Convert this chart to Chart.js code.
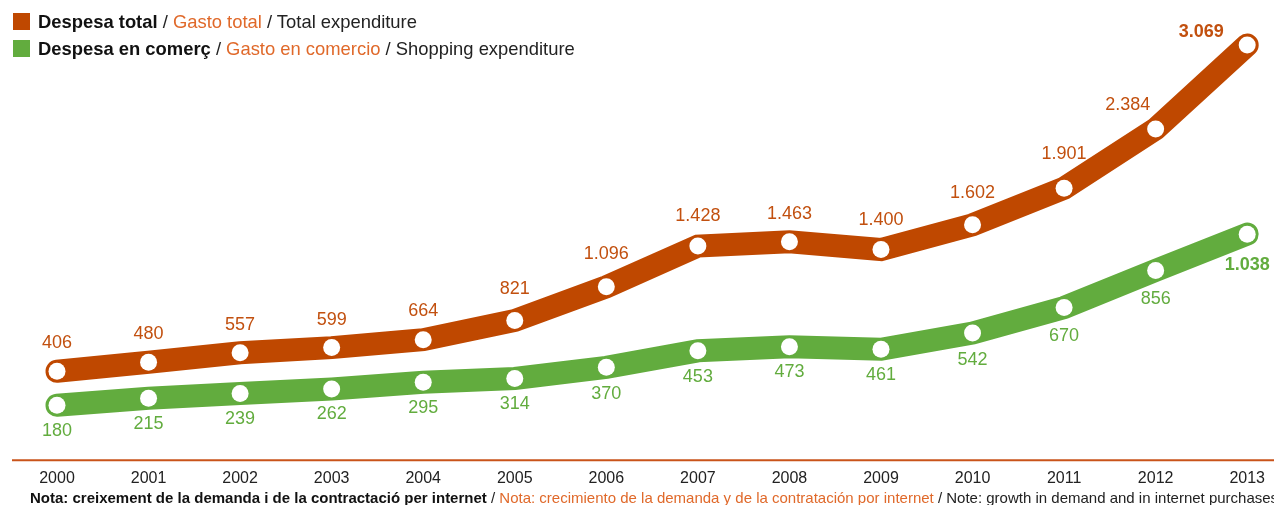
<!DOCTYPE html>
<html>
<head>
<meta charset="utf-8">
<script src="https://cdn.jsdelivr.net/npm/chart.js@4/dist/chart.umd.min.js"></script>
<style>
  html, body { margin: 0; padding: 0; background: #fff; }
  body { width: 1274px; height: 507px; position: relative; overflow: hidden; font-family: "Liberation Sans", Arial, Helvetica, sans-serif; }
  #wrap { position: absolute; left: 0; top: 0; width: 1274px; height: 507px; }
  .legend-row { position: absolute; left: 13px; height: 17px; line-height: 17px; font-size: 18.4px; white-space: nowrap; color: #222; }
  .legend-row .sw { display: inline-block; width: 17px; height: 17px; vertical-align: top; margin-right: 8px; }
  .b { font-weight: bold; color: #111; }
  .o { color: #e0692a; }
  #note { position: absolute; left: 30px; top: 490px; height: 15px; line-height: 15px; font-size: 15px; white-space: nowrap; color: #222; width: 1244px; overflow: hidden; }
</style>
</head>
<body>
<div id="wrap"><canvas id="c" width="1274" height="507"></canvas></div>
<div class="legend-row" style="top:13px"><span class="sw" style="background:#bf4800"></span><span class="b">Despesa total</span> / <span class="o">Gasto total</span> / Total expenditure</div>
<div class="legend-row" style="top:40px"><span class="sw" style="background:#62ac3e"></span><span class="b">Despesa en comerç</span> / <span class="o">Gasto en comercio</span> / Shopping expenditure</div>
<div id="note"><span class="b">Nota: creixement de la demanda i de la contractació per internet</span> / <span class="o">Nota: crecimiento de la demanda y de la contratación por internet</span> / Note: growth in demand and in internet purchases</div>
<script>
const years = ['2000','2001','2002','2003','2004','2005','2006','2007','2008','2009','2010','2011','2012','2013'];
const totalExpenditure = [406, 480, 557, 599, 664, 821, 1096, 1428, 1463, 1400, 1602, 1901, 2384, 3069];
const shoppingExpenditure = [180, 215, 239, 262, 295, 314, 370, 453, 473, 461, 542, 670, 856, 1038];

const ORANGE = '#bf4800';
const ORANGE_TXT = '#c2500f';
const GREEN = '#62ac3e';
const FONT = '"Liberation Sans", Arial, Helvetica, sans-serif';

function fmt(n) {
  const s = String(n);
  return s.length > 3 ? s.slice(0, s.length - 3) + '.' + s.slice(s.length - 3) : s;
}

const axisLine = {
  id: 'axisLine',
  beforeDatasetsDraw(chart) {
    const ctx = chart.ctx, y = chart.chartArea.bottom;
    ctx.save();
    ctx.strokeStyle = '#c9531a';
    ctx.lineWidth = 2;
    ctx.beginPath();
    ctx.moveTo(12, y);
    ctx.lineTo(chart.width, y);
    ctx.stroke();
    ctx.restore();
  }
};

const valueLabels = {
  id: 'valueLabels',
  afterDatasetsDraw(chart) {
    const ctx = chart.ctx;
    chart.data.datasets.forEach((ds, di) => {
      const meta = chart.getDatasetMeta(di);
      const pts = meta.data;
      const above = di === 0;
      pts.forEach((p, i) => {
        const last = i === pts.length - 1;
        let s = 0, c = 0;
        if (i > 0) { s += Math.abs((p.y - pts[i-1].y) / (p.x - pts[i-1].x)); c++; }
        if (i < pts.length - 1) { s += Math.abs((pts[i+1].y - p.y) / (pts[i+1].x - p.x)); c++; }
        const slope = c ? s / c : 0;
        let dx = 0, dy;
        if (above) {
          dy = -(27 + 14 * slope);
          const nextSlope = i < pts.length - 1 ? Math.abs((pts[i+1].y - p.y) / (pts[i+1].x - p.x)) : 0;
          if (last) { dx = -46; dy = -13; }
          else if (nextSlope > 0.8) { dx = -28; dy = -24; }
        } else {
          dy = 25 + 10 * slope;
          if (last) dy = 31;
        }
        ctx.save();
        ctx.font = (last ? 'bold ' : '') + '18px ' + FONT;
        ctx.fillStyle = above ? ORANGE_TXT : GREEN;
        ctx.textAlign = 'center';
        ctx.textBaseline = 'middle';
        ctx.fillText(fmt(ds.data[i]), p.x + dx, p.y + dy);
        ctx.restore();
      });
    });
  }
};

const lineStyle = {
  borderWidth: 23,
  borderCapStyle: 'round',
  borderJoinStyle: 'miter',
  tension: 0,
  pointRadius: 8.5,
  pointBackgroundColor: '#ffffff',
  pointBorderColor: '#ffffff',
  pointBorderWidth: 0,
  clip: false
};

new Chart(document.getElementById('c'), {
  type: 'line',
  data: {
    labels: years,
    datasets: [
      Object.assign({ label: 'Despesa total', data: totalExpenditure, yAxisID: 'y', borderColor: ORANGE }, lineStyle),
      Object.assign({ label: 'Despesa en comerç', data: shoppingExpenditure, yAxisID: 'y2', borderColor: GREEN }, lineStyle)
    ]
  },
  options: {
    responsive: false,
    animation: false,
    layout: { autoPadding: false, padding: { left: 57, right: 25, top: 0, bottom: 9.5 } },
    plugins: { legend: { display: false }, tooltip: { enabled: false } },
    scales: {
      x: {
        offset: false,
        grid: { display: false, drawTicks: false },
        border: { display: false },
        ticks: { color: '#222', font: { family: FONT, size: 16 }, padding: 9, maxRotation: 0, autoSkip: false }
      },
      y: { display: false, min: -321, max: 3437 },
      y2: { display: false, min: -96, max: 2212 }
    }
  },
  plugins: [axisLine, valueLabels]
});
</script>
</body>
</html>
